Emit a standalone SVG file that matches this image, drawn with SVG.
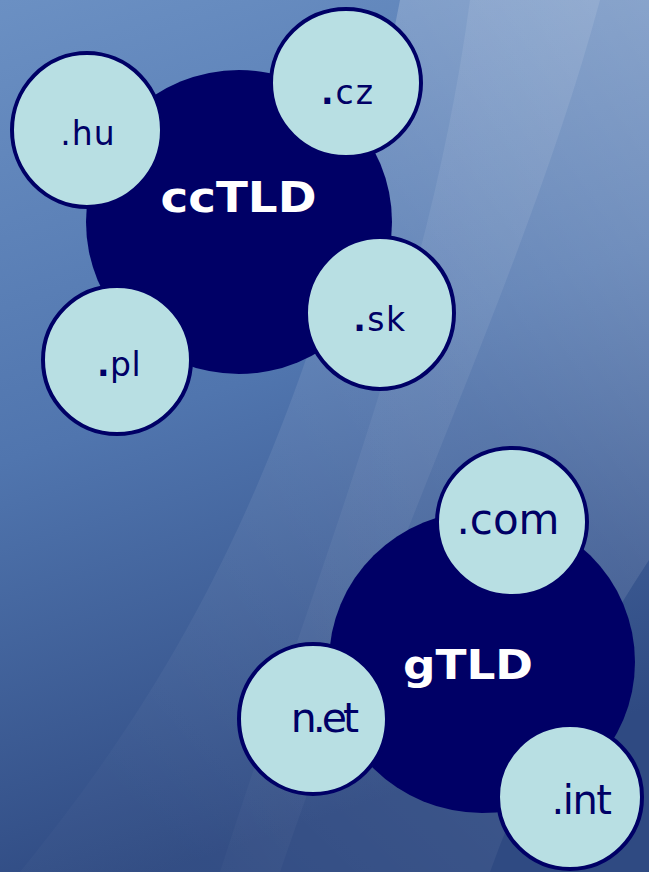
<svg xmlns="http://www.w3.org/2000/svg" width="649" height="872" viewBox="0 0 649 872">
<defs>
<linearGradient id="bg" x1="0" y1="0" x2="0.25" y2="1">
<stop offset="0" stop-color="#6b90c3"/>
<stop offset="0.5" stop-color="#5075ae"/>
<stop offset="1" stop-color="#2f4a82"/>
</linearGradient>
<linearGradient id="glow" x1="1" y1="0" x2="0.3" y2="1">
<stop offset="0" stop-color="#ffffff" stop-opacity="0.26"/>
<stop offset="0.45" stop-color="#ffffff" stop-opacity="0.1"/>
<stop offset="1" stop-color="#ffffff" stop-opacity="0.02"/>
</linearGradient>
<linearGradient id="band" x1="1" y1="0" x2="0" y2="1">
<stop offset="0" stop-color="#ffffff" stop-opacity="0.1"/>
<stop offset="1" stop-color="#ffffff" stop-opacity="0.02"/>
</linearGradient>
</defs>
<style>
.big{fill:#000066;}
.small{fill:#b8dfe3;stroke:#000066;stroke-width:4;}
.lbl{font-family:"DejaVu Sans","Liberation Sans",sans-serif;fill:#000066;text-anchor:middle;}
.hub{font-family:"DejaVu Sans","Liberation Sans",sans-serif;font-weight:bold;fill:#ffffff;text-anchor:middle;}
.b{font-weight:bold;}
</style>
<g id="background">
<rect x="0" y="0" width="649" height="872" fill="url(#bg)"/>
<path d="M400 0 L649 0 L649 560 C590 650 530 760 490 872 L20 872 C160 700 310 470 400 0 Z" fill="url(#glow)"/>
<path d="M470 0 L600 0 C530 260 400 520 280 872 L220 872 C320 560 430 300 470 0 Z" fill="url(#band)"/>
</g>
<g id="ccTLD">
<ellipse class="big" cx="239" cy="222" rx="153" ry="152"/>
<text class="hub" x="238.5" y="212" font-size="43" textLength="156" lengthAdjust="spacingAndGlyphs">ccTLD</text>
</g>
<g id="hu">
<ellipse class="small" cx="87" cy="130" rx="75" ry="77"/>
<text class="lbl" x="88" y="145" font-size="33" letter-spacing="1">.hu</text>
</g>
<g id="cz">
<ellipse class="small" cx="346" cy="83" rx="75" ry="74"/>
<text class="lbl" x="348" y="104" font-size="33" letter-spacing="2"><tspan class="b">.</tspan>cz</text>
</g>
<g id="sk">
<ellipse class="small" cx="380" cy="313" rx="74" ry="76"/>
<text class="lbl" x="380" y="331" font-size="33" letter-spacing="1.5"><tspan class="b">.</tspan>sk</text>
</g>
<g id="pl">
<ellipse class="small" cx="117" cy="360" rx="74" ry="74"/>
<text class="lbl" x="119" y="376" font-size="33" letter-spacing="0.5"><tspan class="b">.</tspan>pl</text>
</g>
<g id="gTLD">
<ellipse class="big" cx="482" cy="662" rx="153" ry="151"/>
<text class="hub" x="468" y="679" font-size="40" textLength="130" lengthAdjust="spacingAndGlyphs">gTLD</text>
</g>
<g id="com">
<ellipse class="small" cx="512" cy="522" rx="75" ry="74"/>
<text class="lbl" x="508" y="534" font-size="42">.com</text>
</g>
<g id="net">
<ellipse class="small" cx="313" cy="719" rx="74" ry="75"/>
<text class="lbl" x="323" y="732" font-size="41" letter-spacing="-4">n.et</text>
</g>
<g id="int">
<ellipse class="small" cx="570" cy="797" rx="72" ry="72"/>
<text class="lbl" x="581" y="814" font-size="40" letter-spacing="-1.5">.int</text>
</g>
<g id="connectors"></g>
</svg>
